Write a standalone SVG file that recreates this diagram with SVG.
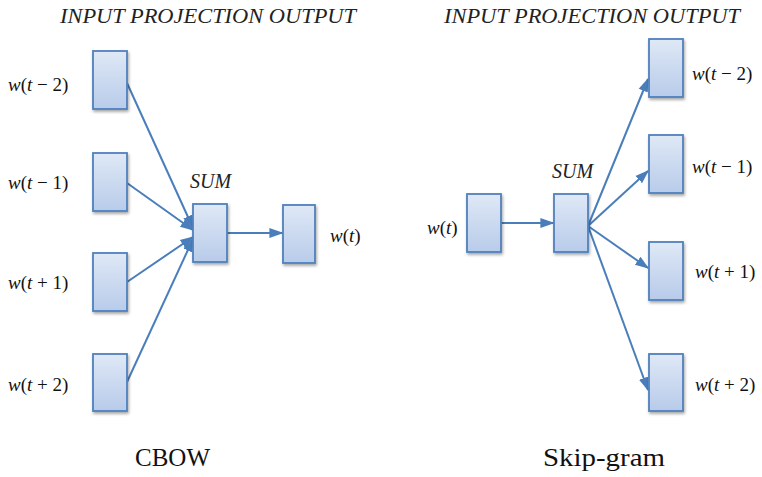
<svg xmlns="http://www.w3.org/2000/svg" width="762" height="477" viewBox="0 0 762 477">
  <style>
    .box { fill: url(#boxFill); stroke: #4f81bd; stroke-width: 1.8; filter: url(#shadow); }
    .head { font-family: "Liberation Serif", serif; font-style: italic; font-size: 20px; fill: #222; }
    .lbl { font-family: "Liberation Serif", serif; font-size: 19px; fill: #111; }
    .lbl tspan.v { font-style: italic; }
    .title { font-family: "Liberation Serif", serif; font-size: 26px; fill: #111; }
    .edge { stroke: #4a7ebb; stroke-width: 2; fill: none; marker-end: url(#arrow); }
  </style>
  <defs>
    <linearGradient id="boxFill" x1="0" y1="0" x2="0" y2="1">
      <stop offset="0" stop-color="#dfe8f6"/>
      <stop offset="1" stop-color="#b8cbea"/>
    </linearGradient>
    <filter id="shadow" x="-30%" y="-20%" width="160%" height="140%">
      <feGaussianBlur in="SourceAlpha" stdDeviation="1.5"/>
      <feOffset dx="1" dy="2" result="b"/>
      <feComponentTransfer><feFuncA type="linear" slope="0.35"/></feComponentTransfer>
      <feMerge><feMergeNode/><feMergeNode in="SourceGraphic"/></feMerge>
    </filter>
    <marker id="arrow" viewBox="0 0 10 10" refX="9" refY="5" markerWidth="14" markerHeight="14" orient="auto" markerUnits="userSpaceOnUse">
      <path d="M0,1.5 L10,5 L0,8.5 Z" fill="#4a7ebb"/>
    </marker>
  </defs>
  <rect width="762" height="477" fill="#ffffff"/>

  <!-- column headers -->
  <text class="head" x="60" y="23" textLength="296" lengthAdjust="spacingAndGlyphs">INPUT  PROJECTION  OUTPUT</text>
  <text class="head" x="444" y="23" textLength="296" lengthAdjust="spacingAndGlyphs">INPUT  PROJECTION  OUTPUT</text>

  <!-- CBOW edges -->
  <g id="cbow-edges">
    <line class="edge" x1="127" y1="83" x2="193" y2="228"/>
    <line class="edge" x1="127" y1="183" x2="193" y2="230"/>
    <line class="edge" x1="127" y1="282" x2="193" y2="237"/>
    <line class="edge" x1="127" y1="382" x2="193" y2="239"/>
    <line class="edge" x1="227" y1="233" x2="282" y2="233"/>
  </g>

  <!-- Skip-gram edges -->
  <g id="skipgram-edges">
    <line class="edge" x1="501" y1="223" x2="553" y2="223"/>
    <line class="edge" x1="588" y1="226" x2="648" y2="79"/>
    <line class="edge" x1="588" y1="226" x2="648" y2="171"/>
    <line class="edge" x1="588" y1="226" x2="648" y2="268"/>
    <line class="edge" x1="588" y1="226" x2="648" y2="390"/>
  </g>

  <!-- CBOW nodes -->
  <g id="cbow-in-1">
    <rect class="box" x="93" y="51" width="34" height="58"/>
    <text class="lbl" x="8" y="91"><tspan class="v">w</tspan>(<tspan class="v">t</tspan> − 2)</text>
  </g>
  <g id="cbow-in-2">
    <rect class="box" x="93" y="153" width="34" height="58"/>
    <text class="lbl" x="8" y="189"><tspan class="v">w</tspan>(<tspan class="v">t</tspan> − 1)</text>
  </g>
  <g id="cbow-in-3">
    <rect class="box" x="93" y="253" width="34" height="58"/>
    <text class="lbl" x="8" y="289"><tspan class="v">w</tspan>(<tspan class="v">t</tspan> + 1)</text>
  </g>
  <g id="cbow-in-4">
    <rect class="box" x="93" y="354" width="34" height="57"/>
    <text class="lbl" x="8" y="391"><tspan class="v">w</tspan>(<tspan class="v">t</tspan> + 2)</text>
  </g>
  <g id="cbow-sum">
    <rect class="box" x="193" y="204" width="34" height="58"/>
    <text class="head" x="190" y="188">SUM</text>
  </g>
  <g id="cbow-out">
    <rect class="box" x="283" y="205" width="32" height="58"/>
    <text class="lbl" x="330" y="242"><tspan class="v">w</tspan>(<tspan class="v">t</tspan>)</text>
  </g>
  <text class="title" x="135" y="466" textLength="75" lengthAdjust="spacingAndGlyphs">CBOW</text>

  <!-- Skip-gram nodes -->
  <g id="sg-in">
    <rect class="box" x="467" y="194" width="34" height="58"/>
    <text class="lbl" x="427" y="234"><tspan class="v">w</tspan>(<tspan class="v">t</tspan>)</text>
  </g>
  <g id="sg-sum">
    <rect class="box" x="554" y="194" width="34" height="58"/>
    <text class="head" x="552" y="178">SUM</text>
  </g>
  <g id="sg-out-1">
    <rect class="box" x="649" y="39" width="34" height="58"/>
    <text class="lbl" x="692" y="80"><tspan class="v">w</tspan>(<tspan class="v">t</tspan> − 2)</text>
  </g>
  <g id="sg-out-2">
    <rect class="box" x="649" y="135" width="34" height="58"/>
    <text class="lbl" x="692" y="173"><tspan class="v">w</tspan>(<tspan class="v">t</tspan> − 1)</text>
  </g>
  <g id="sg-out-3">
    <rect class="box" x="649" y="242" width="34" height="58"/>
    <text class="lbl" x="695" y="278"><tspan class="v">w</tspan>(<tspan class="v">t</tspan> + 1)</text>
  </g>
  <g id="sg-out-4">
    <rect class="box" x="649" y="354" width="34" height="57"/>
    <text class="lbl" x="695" y="391"><tspan class="v">w</tspan>(<tspan class="v">t</tspan> + 2)</text>
  </g>
  <text class="title" x="543" y="466" textLength="122" lengthAdjust="spacingAndGlyphs">Skip-gram</text>
</svg>
